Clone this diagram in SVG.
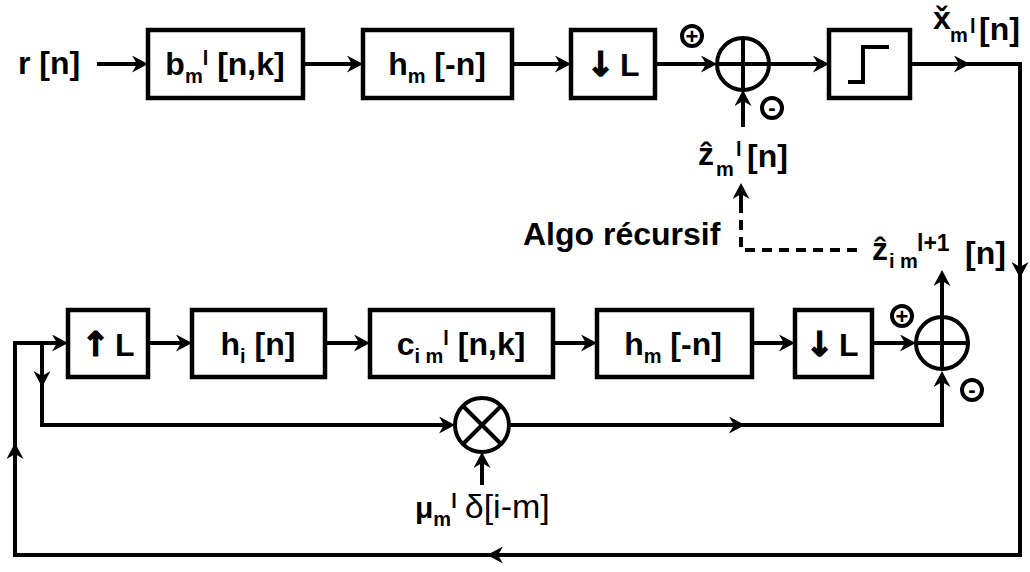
<svg xmlns="http://www.w3.org/2000/svg" width="1030" height="572" viewBox="0 0 1030 572">
  <style>
    .box { fill: #fff; stroke: #000; stroke-width: 4.5; }
    .ln { fill: none; stroke: #000; stroke-width: 4; }
    .dash { fill: none; stroke: #000; stroke-width: 4; stroke-dasharray: 10 7; }
    .arr { marker-end: url(#ah); }
    .t { font-family: "Liberation Sans", Arial, "DejaVu Sans", sans-serif; font-weight: bold; font-size: 32px; fill: #000; }
    .s { font-size: 20px; }
    .sym { font-family: "DejaVu Sans", sans-serif; font-weight: bold; font-size: 34px; stroke: #000; stroke-width: 1.2; }
    .sg { fill: #fff; stroke: #000; stroke-width: 4; }
    .sgt { font-family: "Liberation Sans", Arial, sans-serif; font-weight: bold; font-size: 22px; fill: #000; text-anchor: middle; }
  </style>
  <defs>
    <marker id="ah" markerUnits="userSpaceOnUse" markerWidth="16" markerHeight="17" viewBox="0 0 16 17" refX="12" refY="8.5" orient="auto">
      <path d="M0,0 L16,8.5 L0,17 L5,8.5 Z" fill="#000"/>
    </marker>
  </defs>
  <rect width="1030" height="572" fill="#fff"/>

  <!-- connectors -->
  <g id="connectors">
    <!-- upper chain -->
    <path class="ln arr" d="M97,64 H144"/>
    <path class="ln arr" d="M303,64 H359"/>
    <path class="ln arr" d="M512,64 H567"/>
    <path class="ln arr" d="M655,64 H713"/>
    <path class="ln arr" d="M769,64 H825"/>
    <!-- decision output looping back to the lower chain -->
    <path class="ln arr" d="M910,64 H1020 V555 H15 V343 H64"/>
    <path class="ln arr" d="M950,64 H966"/>
    <path class="ln arr" d="M1020,256 V274"/>
    <path class="ln arr" d="M507,555 H491"/>
    <path class="ln arr" d="M15,463 V447"/>
    <!-- interference estimate into the upper adder -->
    <path class="ln arr" d="M743,127 V94"/>
    <!-- recursion link -->
    <path class="dash" d="M857,250 H741 V200"/>
    <path class="ln arr" d="M741,203 V187"/>
    <!-- lower chain -->
    <path class="ln arr" d="M148,343 H188"/>
    <path class="ln arr" d="M325,343 H366"/>
    <path class="ln arr" d="M553,343 H593"/>
    <path class="ln arr" d="M752,343 H791"/>
    <path class="ln arr" d="M872,343 H912"/>
    <path class="ln arr" d="M942,317 V274"/>
    <!-- branch through the weighting multiplier -->
    <path class="ln arr" d="M42,343 V425 H451"/>
    <path class="ln arr" d="M42,365 V383"/>
    <path class="ln arr" d="M509,425 H942 V375"/>
    <path class="ln arr" d="M725,425 H741"/>
    <path class="ln arr" d="M482,485 V456"/>
  </g>

  <!-- upper chain nodes -->
  <g id="input-label">
    <text class="t" x="18" y="74">r [n]</text>
  </g>
  <g id="b-filter">
    <rect class="box" x="148" y="30" width="155" height="68"/>
    <text class="t" x="225" y="75" text-anchor="middle">b<tspan class="s" dy="8">m</tspan><tspan class="s" dy="-18">l</tspan><tspan dy="10"> [n,k]</tspan></text>
  </g>
  <g id="matched-filter-top">
    <rect class="box" x="363" y="30" width="149" height="68"/>
    <text class="t" x="437" y="75" text-anchor="middle">h<tspan class="s" dy="8">m</tspan><tspan dy="-8"> [-n]</tspan></text>
  </g>
  <g id="downsampler-top">
    <rect class="box" x="571" y="30" width="84" height="68"/>
    <text class="t" x="613" y="76" text-anchor="middle"><tspan class="sym">↓</tspan><tspan dx="5">L</tspan></text>
  </g>
  <g id="adder-top">
    <circle class="sg" cx="743" cy="64" r="26"/>
    <path class="ln" d="M717,64 H769 M743,38 V90"/>
    <circle class="sg" cx="692" cy="36" r="10"/>
    <text class="sgt" x="692" y="44">+</text>
    <circle class="sg" cx="772" cy="108" r="10"/>
    <text class="sgt" x="772" y="115">-</text>
  </g>
  <g id="decision">
    <rect class="box" x="829" y="30" width="81" height="68"/>
    <path class="ln" d="M848,82 H863 V47 H889"/>
  </g>
  <g id="decision-label">
    <text class="t"><tspan x="933" y="29">x̌</tspan><tspan class="s" x="950" y="42">m</tspan><tspan class="s" x="970" y="33">l</tspan><tspan x="979" y="40">[n]</tspan></text>
  </g>
  <g id="estimate-label">
    <text class="t"><tspan x="698" y="165">ẑ</tspan><tspan class="s" x="716" y="176">m</tspan><tspan class="s" x="736" y="156">l</tspan><tspan x="747" y="167">[n]</tspan></text>
  </g>
  <g id="recursion-label">
    <text class="t" x="523" y="245">Algo récursif</text>
  </g>
  <g id="next-estimate-label">
    <text class="t"><tspan x="872" y="260">ẑ</tspan><tspan class="s" x="889" y="268">i m</tspan><tspan x="917" y="251" style="font-size:23px">l+1</tspan><tspan x="965" y="264">[n]</tspan></text>
  </g>

  <!-- lower chain nodes -->
  <g id="upsampler">
    <rect class="box" x="68" y="310" width="80" height="67"/>
    <text class="t" x="108" y="356" text-anchor="middle"><tspan class="sym">↑</tspan><tspan dx="5">L</tspan></text>
  </g>
  <g id="interp-filter">
    <rect class="box" x="192" y="310" width="133" height="67"/>
    <text class="t" x="258" y="355" text-anchor="middle">h<tspan class="s" dy="8">i</tspan><tspan dy="-8"> [n]</tspan></text>
  </g>
  <g id="c-filter">
    <rect class="box" x="370" y="310" width="183" height="67"/>
    <text class="t" x="461" y="355" text-anchor="middle">c<tspan class="s" dy="8">i m</tspan><tspan class="s" dy="-18">l</tspan><tspan dy="10"> [n,k]</tspan></text>
  </g>
  <g id="matched-filter-bottom">
    <rect class="box" x="597" y="310" width="155" height="67"/>
    <text class="t" x="673" y="355" text-anchor="middle">h<tspan class="s" dy="8">m</tspan><tspan dy="-8"> [-n]</tspan></text>
  </g>
  <g id="downsampler-bottom">
    <rect class="box" x="795" y="310" width="77" height="67"/>
    <text class="t" x="832" y="356" text-anchor="middle"><tspan class="sym">↓</tspan><tspan dx="5">L</tspan></text>
  </g>
  <g id="adder-bottom">
    <circle class="sg" cx="942" cy="343" r="26"/>
    <path class="ln" d="M916,343 H968 M942,317 V369"/>
    <circle class="sg" cx="902" cy="316" r="10"/>
    <text class="sgt" x="902" y="324">+</text>
    <circle class="sg" cx="972" cy="390" r="10"/>
    <text class="sgt" x="972" y="397">-</text>
  </g>
  <g id="multiplier">
    <circle class="sg" cx="482" cy="425" r="27"/>
    <path class="ln" d="M463,406 L501,444 M501,406 L463,444"/>
  </g>
  <g id="weight-label">
    <text class="t" x="415" y="518" style="font-size:30px">μ<tspan class="s" dy="8">m</tspan><tspan class="s" dy="-18">l</tspan><tspan dx="8" dy="10" style="font-weight:normal;font-size:34px">δ[i-m]</tspan></text>
  </g>
</svg>
